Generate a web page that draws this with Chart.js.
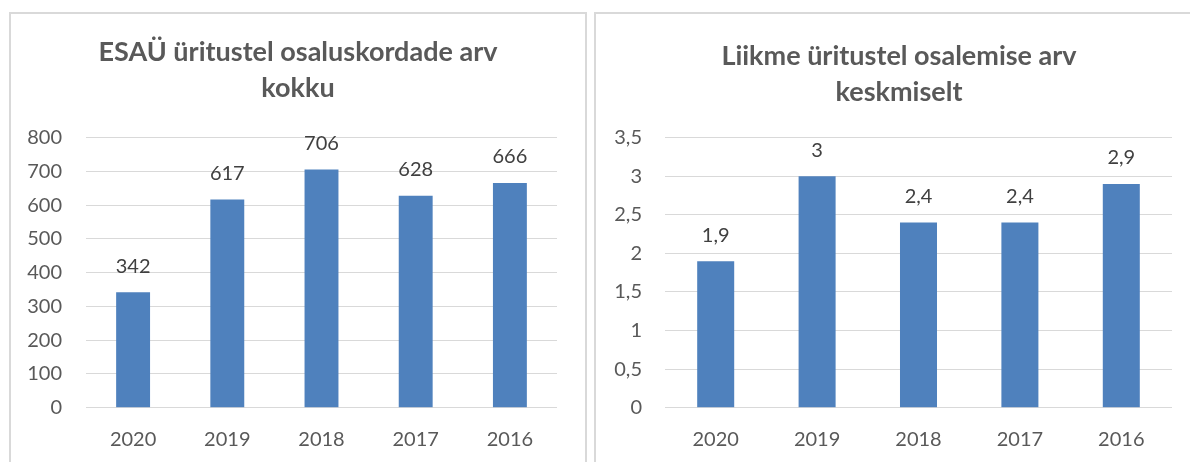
<!DOCTYPE html>
<html>
<head>
<meta charset="utf-8">
<script src="https://cdn.jsdelivr.net/npm/chart.js@4.4.1/dist/chart.umd.min.js"></script>
<style>
  html, body { margin: 0; padding: 0; background: #ffffff; overflow: hidden; width: 1190px; height: 462px; }
  .frame { position: absolute; box-sizing: border-box; border: 2px solid #d9d9d9; }
  canvas { position: absolute; top: 0; }
</style>
</head>
<body>
<div class="frame" style="left:9px; top:12px; width:578px; height:470px;"></div>
<div class="frame" style="left:594px; top:12px; width:610px; height:470px;"></div>
<canvas id="c1" width="596" height="462" style="left:0px;"></canvas>
<canvas id="c2" width="618" height="462" style="left:590px;"></canvas>
<script>
// ---- data ----
const categories = ['2020', '2019', '2018', '2017', '2016'];
const totalParticipations = [342, 617, 706, 628, 666];
const averageParticipations = [1.9, 3, 2.4, 2.4, 2.9];
const title1 = ['ESAÜ üritustel osaluskordade arv', 'kokku'];
const title2 = ['Liikme üritustel osalemise arv', 'keskmiselt'];
const yTicks1 = { min: 0, max: 800, step: 100 };
const yTicks2 = { min: 0, max: 3.5, step: 0.5 };

const FONT = 'Lato, "Open Sans", sans-serif';
const BAR = '#4f81bd';
const GRID = '#d9d9d9';
const TICK = '#595959';
const TITLE_SIZE = 27;

const fmt = v => String(v).replace('.', ',');

const valueLabels = {
  id: 'valueLabels',
  afterDatasetsDraw(chart) {
    const ctx = chart.ctx;
    ctx.save();
    ctx.font = '20px ' + FONT;
    ctx.fillStyle = '#404040';
    ctx.textAlign = 'center';
    ctx.textBaseline = 'middle';
    chart.data.datasets.forEach((ds, di) => {
      const meta = chart.getDatasetMeta(di);
      meta.data.forEach((el, i) => {
        ctx.fillText(fmt(ds.data[i]), el.x, el.y - 26);
      });
    });
    ctx.restore();
  }
};

function makeChart(id, values, title, yt, opts) {
  return new Chart(document.getElementById(id), {
    type: 'bar',
    data: {
      labels: categories,
      datasets: [{
        data: values,
        backgroundColor: BAR,
        borderWidth: 0,
        categoryPercentage: 1,
        barPercentage: opts.barPct
      }]
    },
    plugins: [valueLabels],
    options: {
      responsive: false,
      animation: false,
      devicePixelRatio: 1,
      layout: { padding: 0 },
      plugins: {
        legend: { display: false },
        tooltip: { enabled: false },
        title: {
          display: true,
          text: title,
          color: TICK,
          font: { family: FONT, size: TITLE_SIZE, weight: 'bold', lineHeight: 36 / TITLE_SIZE },
          padding: { top: opts.titleTop, bottom: 137.7 - opts.titleTop - 72 }
        }
      },
      scales: {
        x: {
          grid: { display: false, drawTicks: false },
          border: { display: false },
          ticks: { color: TICK, font: { family: FONT, size: 20 }, padding: 20 },
          afterFit: s => { s.height = 462 - 407.7; }
        },
        y: {
          min: yt.min,
          max: yt.max,
          grid: { color: GRID, lineWidth: 1, drawTicks: false },
          border: { display: false },
          ticks: {
            stepSize: yt.step,
            color: TICK,
            font: { family: FONT, size: 20 },
            padding: opts.tickPad,
            callback: v => fmt(v)
          },
          afterFit: s => { s.width = opts.yWidth; }
        },
        spacer: {
          type: 'linear',
          position: 'right',
          display: true,
          grid: { display: false, drawTicks: false },
          border: { display: false },
          ticks: { display: false },
          afterFit: s => { s.width = opts.rightGap; }
        }
      }
    }
  });
}

makeChart('c1', totalParticipations, title1, yTicks1,
  { barPct: 0.36, titleTop: 34, yWidth: 86, rightGap: 39, tickPad: 24 });
makeChart('c2', averageParticipations, title2, yTicks2,
  { barPct: 0.365, titleTop: 38, yWidth: 75, rightGap: 36, tickPad: 23 });
</script>
</body>
</html>
